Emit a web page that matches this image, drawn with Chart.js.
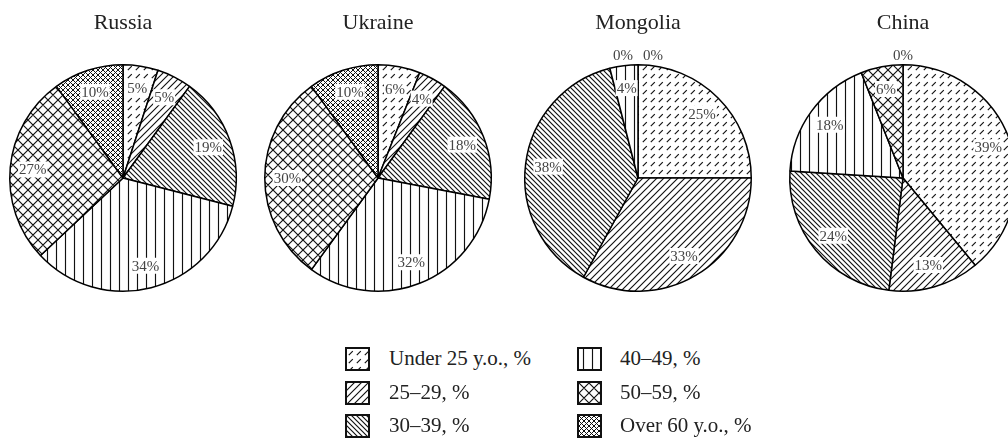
<!DOCTYPE html>
<html>
<head>
<meta charset="utf-8">
<script src="https://cdn.jsdelivr.net/npm/chart.js@4.4.1/dist/chart.umd.min.js"></script>
<style>
  body { margin: 0; width: 1008px; height: 443px; overflow: hidden; background: #fff; position: relative; font-family: "Liberation Serif", "Times New Roman", serif; }
  .pie { position: absolute; top: 0; }
  .item { position: absolute; display: flex; align-items: center; font-size: 21px; color: #222; white-space: nowrap; }
  .item canvas { border: 2px solid #111; display: block; }
</style>
</head>
<body>
<canvas id="russia" class="pie" width="250" height="303" style="left:-2px"></canvas>
<canvas id="ukraine" class="pie" width="250" height="303" style="left:253px"></canvas>
<canvas id="mongolia" class="pie" width="250" height="303" style="left:513px"></canvas>
<canvas id="china" class="pie" width="250" height="303" style="left:778px"></canvas>
<div id="legend"></div>

<script>
// age groups (slice order, clockwise from top)
let groups = ['Under 25 y.o., %', '25–29, %', '30–39, %', '40–49, %', '50–59, %', 'Over 60 y.o., %'];

// share of each age group, %
let russia = [5, 5, 19, 34, 27, 10];
let ukraine = [6, 4, 18, 32, 30, 10];
let mongolia = [25, 33, 38, 4, 0, 0];
let china = [39, 13, 24, 18, 6, 0];

let countries = ['Russia', 'Ukraine', 'Mongolia', 'China'];
let values = [russia, ukraine, mongolia, china];
let canvasIds = ['russia', 'ukraine', 'mongolia', 'china'];

// hatch fills, one per group
function makePattern(kind) {
    let s = 8;
    if (kind == 'dash') s = 8;
    if (kind == 'fwd') s = 7;
    if (kind == 'back') s = 5;
    if (kind == 'vert') s = 9;
    if (kind == 'cross') s = 10;
    if (kind == 'dense') s = 5;
    let c = document.createElement('canvas');
    c.width = s; c.height = s;
    let g = c.getContext('2d');
    g.fillStyle = '#fff';
    g.fillRect(0, 0, s, s);
    g.strokeStyle = '#111';
    g.lineWidth = kind == 'dense' ? 1 : 1.15;
    g.beginPath();
    if (kind == 'dash') {
        g.moveTo(1.8, 6.2); g.lineTo(5.8, 2.2);
    }
    if (kind == 'fwd' || kind == 'cross' || kind == 'dense') {
        g.moveTo(0, s); g.lineTo(s, 0);
        g.moveTo(-s / 2, s / 2); g.lineTo(s / 2, -s / 2);
        g.moveTo(s / 2, s * 1.5); g.lineTo(s * 1.5, s / 2);
    }
    if (kind == 'back' || kind == 'cross' || kind == 'dense') {
        g.moveTo(0, 0); g.lineTo(s, s);
        g.moveTo(-s / 2, s / 2); g.lineTo(s / 2, s * 1.5);
        g.moveTo(s / 2, -s / 2); g.lineTo(s * 1.5, s / 2);
    }
    if (kind == 'vert') {
        g.moveTo(s / 2, 0); g.lineTo(s / 2, s);
    }
    g.stroke();
    return g.createPattern(c, 'repeat');
}

let patternKinds = ['dash', 'fwd', 'back', 'vert', 'cross', 'dense'];
let fills = patternKinds.map(k => makePattern(k));

// percent labels inside the slices, zero slices go above the pie
const pctLabels = {
    id: 'pctLabels',
    afterDatasetsDraw(chart) {
        let ctx = chart.ctx;
        let vals = chart.data.datasets[0].data;
        let meta = chart.getDatasetMeta(0);
        let zeros = [];
        vals.forEach((v, i) => { if (v === 0) zeros.push(i); });
        ctx.save();
        ctx.font = '15px "Liberation Serif", serif';
        ctx.textAlign = 'center';
        ctx.textBaseline = 'middle';
        meta.data.forEach((arc, i) => {
            let p = arc.getProps(['x', 'y', 'startAngle', 'endAngle', 'outerRadius'], true);
            let txt = vals[i] + '%';
            let tx, ty;
            if (vals[i] === 0) {
                let k = zeros.indexOf(i);
                tx = p.x + (k - (zeros.length - 1) / 2) * 30;
                ty = p.y - p.outerRadius - 10;
            } else {
                let mid = (p.startAngle + p.endAngle) / 2;
                tx = p.x + Math.cos(mid) * p.outerRadius * 0.8;
                ty = p.y + Math.sin(mid) * p.outerRadius * 0.8;
                let w = ctx.measureText(txt).width;
                ctx.fillStyle = '#fff';
                ctx.fillRect(tx - w / 2 - 1, ty - 8, w + 2, 16);
            }
            ctx.fillStyle = '#444';
            ctx.fillText(txt, tx, ty + 1);
        });
        ctx.restore();
    }
};

let charts = [];
for (let n = 0; n < countries.length; n++) {
    let ctx = document.getElementById(canvasIds[n]).getContext('2d');
    charts.push(new Chart(ctx, {
        type: 'pie',
        data: {
            labels: groups,
            datasets: [{
                data: values[n],
                backgroundColor: fills,
                borderColor: '#000',
                borderWidth: 1.5
            }]
        },
        options: {
            responsive: false,
            animation: false,
            events: [],
            layout: { padding: { left: 11, right: 11, top: 0, bottom: 0 } },
            plugins: {
                legend: { display: false },
                tooltip: { enabled: false },
                title: {
                    display: true,
                    text: countries[n],
                    color: '#222',
                    font: { family: '"Liberation Serif", serif', size: 22, weight: 'normal' },
                    padding: { top: 10, bottom: 16.6 }
                }
            }
        },
        plugins: [pctLabels]
    }));
}

// legend, two columns of three
let legendPos = [[345, 346], [345, 380], [345, 413], [577, 346], [577, 380], [577, 413]];
let legend = document.getElementById('legend');
groups.forEach((name, i) => {
    let item = document.createElement('div');
    item.className = 'item';
    item.style.left = legendPos[i][0] + 'px';
    item.style.top = legendPos[i][1] + 'px';
    let sw = document.createElement('canvas');
    sw.width = 21; sw.height = 20;
    let g = sw.getContext('2d');
    g.fillStyle = fills[i];
    g.fillRect(0, 0, 21, 20);
    sw.style.marginRight = (i < 3 ? 19 : 18) + 'px';
    item.appendChild(sw);
    let label = document.createElement('span');
    label.textContent = name;
    item.appendChild(label);
    legend.appendChild(item);
});
</script>
</body>
</html>
